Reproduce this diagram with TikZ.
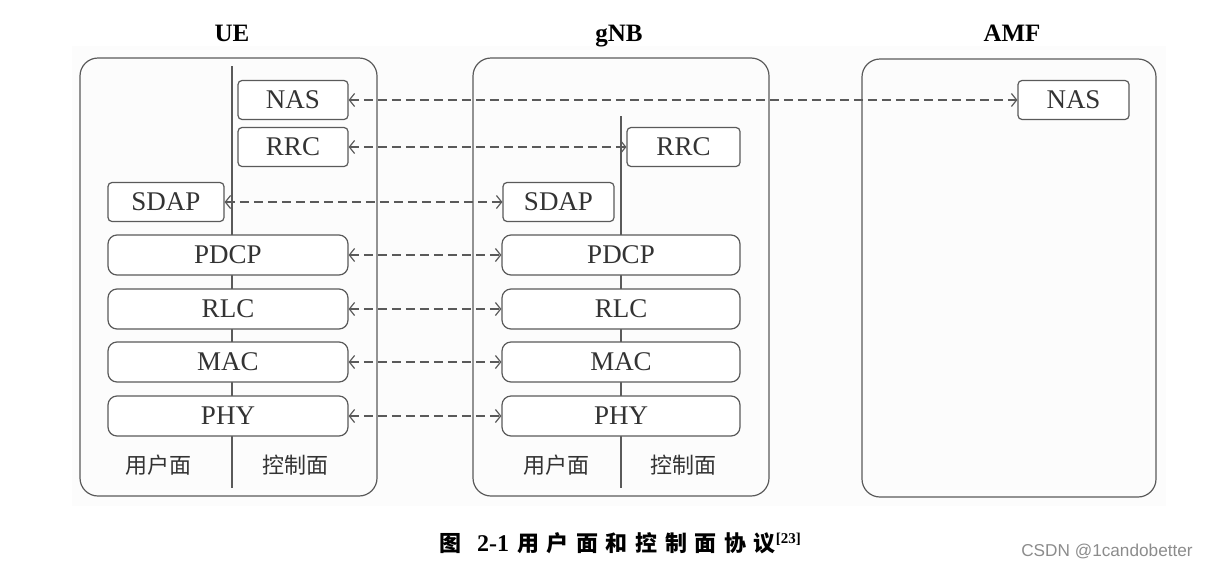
\documentclass[tikz,border=0pt]{standalone}
\usepackage{fontspec}
\setmainfont{Liberation Serif}
\newfontfamily\cjk{Noto Sans CJK SC}
\newfontfamily\wmfont{Liberation Sans}
\usetikzlibrary{arrows.meta}
\definecolor{edge}{HTML}{5A5A5A}
\definecolor{txt}{HTML}{333333}
\definecolor{scan}{HTML}{FCFCFC}
\tikzset{
  container/.style={draw=edge, line width=0.6pt, rounded corners=9pt, inner sep=0pt},
  layerbox/.style={draw=edge, fill=white, line width=0.6pt, rounded corners=2pt, inner sep=0pt,
    text=txt, font=\fontsize{13.5}{14}\selectfont, minimum height=19.5pt},
  widebox/.style={layerbox, rounded corners=4.5pt, minimum height=20pt},
  title/.style={font=\fontsize{12.5}{13}\selectfont\bfseries, text=black, anchor=base},
  plane/.style={font=\cjk\fontsize{11}{12}\selectfont, text=txt},
  divider/.style={draw=edge, line width=0.6pt},
  conn/.style={draw=edge, line width=0.6pt, dash pattern=on 4.5pt off 2.5pt,
    {Straight Barb[length=2.6pt,width=6.5pt]}-{Straight Barb[length=2.6pt,width=6.5pt]}},
}
\begin{document}
\begin{tikzpicture}[x=0.5pt,y=-0.5pt]
\useasboundingbox (0,0) rectangle (1209,568);
\fill[scan] (72,46) rectangle (1166,506);

% containers
\node[container, minimum width=148.5pt, minimum height=219pt] (ue) at (228.5,277) {};
\node[container, minimum width=148pt, minimum height=219pt] (gnb) at (621,277) {};
\node[container, minimum width=147pt, minimum height=219pt] (amf) at (1009,278) {};

% titles
\node[title] (uet) at (232,41) {UE};
\node[title] (gnbt) at (619,41) {gNB};
\node[title] (amft) at (1012,41) {AMF};

% dividers
\coordinate (uetop) at (232,66);
\coordinate (uebot) at (232,488);
\coordinate (gnbtop) at (621,116);
\coordinate (gnbbot) at (621,488);
\draw[divider] (uetop) -- (uebot);
\draw[divider] (gnbtop) -- (gnbbot);

% UE stack
\node[layerbox, minimum width=55pt] (uenas) at (293,100) {NAS};
\node[layerbox, minimum width=55pt] (uerrc) at (293,147) {RRC};
\node[layerbox, minimum width=58pt] (uesdap) at (166,202) {SDAP};
\node[widebox, minimum width=120pt] (uepdcp) at (228,255) {PDCP};
\node[widebox, minimum width=120pt] (uerlc) at (228,309) {RLC};
\node[widebox, minimum width=120pt] (uemac) at (228,362) {MAC};
\node[widebox, minimum width=120pt] (uephy) at (228,416) {PHY};

% gNB stack
\node[layerbox, minimum width=56.5pt] (gnbrrc) at (683.5,147) {RRC};
\node[layerbox, minimum width=55.5pt] (gnbsdap) at (558.5,202) {SDAP};
\node[widebox, minimum width=119pt] (gnbpdcp) at (621,255) {PDCP};
\node[widebox, minimum width=119pt] (gnbrlc) at (621,309) {RLC};
\node[widebox, minimum width=119pt] (gnbmac) at (621,362) {MAC};
\node[widebox, minimum width=119pt] (gnbphy) at (621,416) {PHY};

% AMF
\node[layerbox, minimum width=55.5pt] (amfnas) at (1073.5,100) {NAS};

% plane labels
\node[plane] (ueup) at (158,465) {用户面};
\node[plane] (uecp) at (295,465) {控制面};
\node[plane] (gnbup) at (556,465) {用户面};
\node[plane] (gnbcp) at (683,465) {控制面};

% peer connections
\draw[conn] (uenas.east) -- (amfnas.west);
\draw[conn] (uerrc.east) -- (gnbrrc.west);
\draw[conn] (uesdap.east) -- (gnbsdap.west);
\draw[conn] (uepdcp.east) -- (gnbpdcp.west);
\draw[conn] (uerlc.east) -- (gnbrlc.west);
\draw[conn] (uemac.east) -- (gnbmac.west);
\draw[conn] (uephy.east) -- (gnbphy.west);

% caption
\node[text=black, inner sep=0pt] (cap) at (620,543) {{\cjk\fontsize{11}{12}\selectfont\bfseries 图}\hspace{8pt}{\fontsize{12}{13}\selectfont\bfseries 2-1}\hspace{4pt}{\cjk\fontsize{11}{12}\selectfont\bfseries 用\hspace{3.8pt}户\hspace{3.8pt}面\hspace{3.8pt}和\hspace{3.8pt}控\hspace{3.8pt}制\hspace{3.8pt}面\hspace{3.8pt}协\hspace{3.8pt}议}\raisebox{4pt}{\fontsize{7.5}{8}\selectfont\bfseries [23]}};

% watermark
\node[text=black!45, inner sep=0pt, font=\wmfont\fontsize{8.6}{9}\selectfont] (wm) at (1107,551) {CSDN @1candobetter};
\end{tikzpicture}
\end{document}
